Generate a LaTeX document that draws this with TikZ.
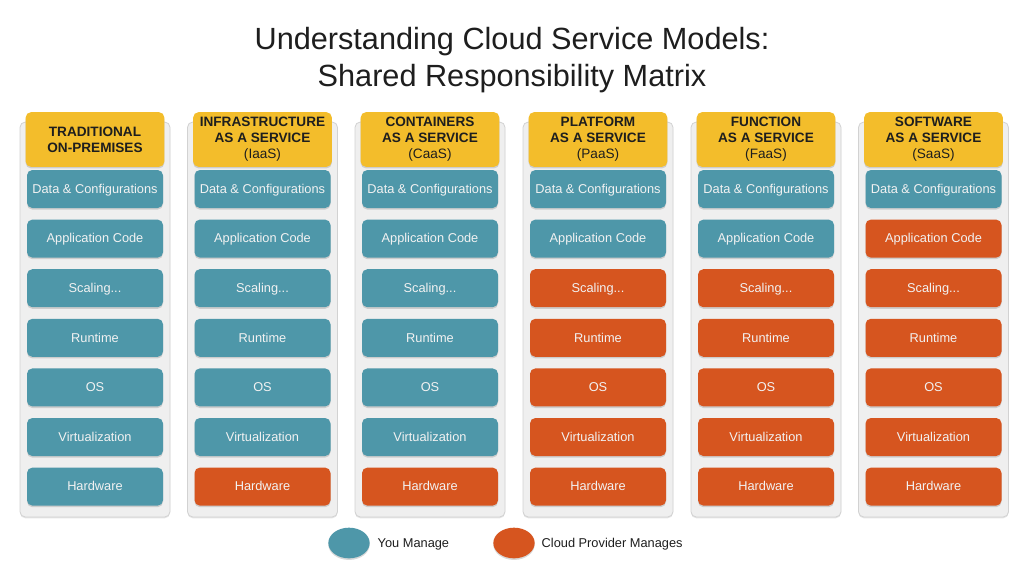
\documentclass[tikz,border=0pt]{standalone}
\usepackage{fontspec}
\setmainfont{Liberation Sans}
\usetikzlibrary{shadows,shapes.geometric}
\definecolor{teal}{HTML}{4E97A9}
\definecolor{orng}{HTML}{D6551F}
\definecolor{yel}{HTML}{F3BD2B}
\definecolor{panelbg}{HTML}{EFEFEF}
\definecolor{panelln}{HTML}{D2D2D2}
\definecolor{dark}{HTML}{1E1E1E}
\tikzset{
  cellbox/.style={rounded corners=4pt, minimum width=102pt, minimum height=28.5pt,
    text=white!95!black, font=\fontsize{9.6}{11}\selectfont, inner sep=0pt,
    text height=7.4pt, text depth=1pt,
    drop shadow={shadow xshift=0pt, shadow yshift=-1.2pt, opacity=0.3}},
  you/.style={cellbox, fill=teal},
  prov/.style={cellbox, fill=orng},
  headbox/.style={rounded corners=4pt, fill=yel, minimum width=104pt, minimum height=41pt,
    text=dark, align=center, inner sep=0pt, font=\fontsize{10.2}{12}\selectfont\bfseries,
    drop shadow={shadow xshift=0pt, shadow yshift=-1.2pt, opacity=0.3}},
  panel/.style={rounded corners=4pt, fill=panelbg, draw=panelln, line width=0.6pt,
    drop shadow={shadow xshift=0pt, shadow yshift=-1pt, opacity=0.2}},
  legdot/.style={ellipse, minimum width=31pt, minimum height=23pt, inner sep=0pt,
    drop shadow={shadow xshift=0pt, shadow yshift=-1.2pt, opacity=0.3}},
  legtext/.style={anchor=base west, text=dark, font=\fontsize{9.6}{11}\selectfont},
  titletext/.style={text=dark, align=center, font=\fontsize{23}{27.5}\selectfont}
}
\begin{document}
\begin{tikzpicture}[x=0.75pt,y=-0.75pt]
\useasboundingbox[fill=white] (0,0) rectangle (1024,576);
\node[titletext] (title) at (512,60) {Understanding Cloud Service Models:\\Shared Responsibility Matrix};
\foreach \i/\cx/\nprov/\head in {
  1/95/0/{TRADITIONAL\\ON-PREMISES},
  2/262.5/1/{INFRASTRUCTURE\\AS A SERVICE\\{\mdseries(IaaS)}},
  3/430/1/{CONTAINERS\\AS A SERVICE\\{\mdseries(CaaS)}},
  4/598/5/{PLATFORM\\AS A SERVICE\\{\mdseries(PaaS)}},
  5/766/5/{FUNCTION\\AS A SERVICE\\{\mdseries(FaaS)}},
  6/933.5/6/{SOFTWARE\\AS A SERVICE\\{\mdseries(SaaS)}}}{
  \path[panel] (\cx-75,122) rectangle (\cx+75,517);
  \node[headbox] (h\i) at (\cx,139.5) {\head};
  \foreach \j/\lab in {1/{Data \& Configurations},2/{Application Code},3/{Scaling...},4/{Runtime},5/{OS},6/{Virtualization},7/{Hardware}}{
    \pgfmathtruncatemacro{\isprov}{(\j>7-\nprov)?1:0}
    \ifnum\isprov=1
      \node[prov] (c\i-\j) at (\cx,{189+(\j-1)*49.6}) {\lab};
    \else
      \node[you] (c\i-\j) at (\cx,{189+(\j-1)*49.6}) {\lab};
    \fi
  }
}
\node[legdot, fill=teal] (ly) at (349,543) {};
\node[legtext] (lyt) at (373,547.5) {You Manage};
\node[legdot, fill=orng] (lp) at (514,543) {};
\node[legtext] (lpt) at (537,547.5) {Cloud Provider Manages};
\end{tikzpicture}
\end{document}
